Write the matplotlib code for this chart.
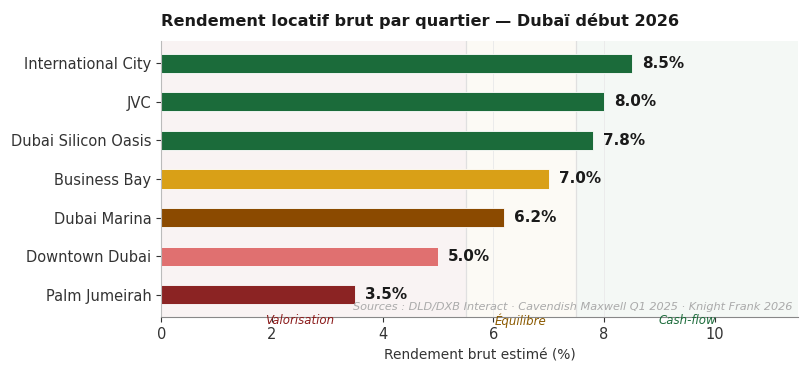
import matplotlib
matplotlib.use("Agg")
import matplotlib.pyplot as plt

quartiers = ["Palm Jumeirah", "Downtown Dubai", "Dubai Marina", "Business Bay",
             "Dubai Silicon Oasis", "JVC", "International City"]
rendements = [3.5, 5.0, 6.2, 7.0, 7.8, 8.0, 8.5]
couleurs = ["#8b2323", "#e07070", "#8b4a00", "#d9a017", "#1b6b3a", "#1b6b3a", "#1b6b3a"]
zones = ["Valorisation", "Équilibre", "Cash-flow"]
zone_bornes = [(0, 5.5), (5.5, 7.5), (7.5, 11.5)]
zone_fonds = ["#a04040", "#c8a040", "#2b7b4a"]
zone_alphas = [0.06, 0.05, 0.05]
zone_textes = ["#8b1a1a", "#8b5a00", "#1b6b3a"]
zone_pos = [2.5, 6.5, 9.5]

fig = plt.figure(figsize=(8.1, 3.76), dpi=100)
ax = fig.add_axes([0.199, 0.157, 0.786, 0.734])

for (a, b), c, al in zip(zone_bornes, zone_fonds, zone_alphas):
    ax.axvspan(a, b, color=c, alpha=al, lw=0, zorder=0)
for x in (5.5, 7.5):
    ax.axvline(x, color="#e0e0e0", lw=0.9, zorder=0.5)
for x in (6.0, 8.0):
    ax.axvline(x, color="#ebebeb", lw=0.7, zorder=0.5)

y = list(range(len(quartiers)))
ax.barh(y, rendements, height=0.5, color=couleurs, edgecolor="white", linewidth=0.6, zorder=2)
for yi, v in zip(y, rendements):
    ax.text(v + 0.18, yi, f"{v:.1f}%", va="center", ha="left", fontsize=11,
            fontweight="bold", color="#1a1a1a", zorder=3)

ax.set_yticks(y)
ax.set_yticklabels(quartiers, fontsize=10.5, color="#333333")
ax.set_xlim(0, 11.5)
ax.set_xticks([0, 2, 4, 6, 8, 10])
ax.tick_params(axis="x", labelsize=10.5, colors="#333333")
ax.tick_params(axis="y", colors="#333333")
ax.set_xlabel("Rendement brut estimé (%)", fontsize=9.9, color="#333333", labelpad=5)

for s in ("top", "right"):
    ax.spines[s].set_visible(False)
ax.spines["left"].set_color("#bbbbbb")
ax.spines["bottom"].set_color("#888888")

for t, xp, c in zip(zones, zone_pos, zone_textes):
    ax.text(xp, -0.012, t, transform=ax.get_xaxis_transform(), ha="center", va="center",
            fontsize=8.5, style="italic", color=c, zorder=4)

ax.text(0.992, 0.036, "Sources : DLD/DXB Interact · Cavendish Maxwell Q1 2025 · Knight Frank 2026",
        transform=ax.transAxes, ha="right", va="center", fontsize=8.1, style="italic",
        color="#aaaaaa", zorder=4)

ax.set_title("Rendement locatif brut par quartier — Dubaï début 2026", loc="left",
             fontsize=11.6, fontweight="bold", color="#1a1a1a", pad=11)

fig.savefig("out.png", dpi=100, facecolor="white")
